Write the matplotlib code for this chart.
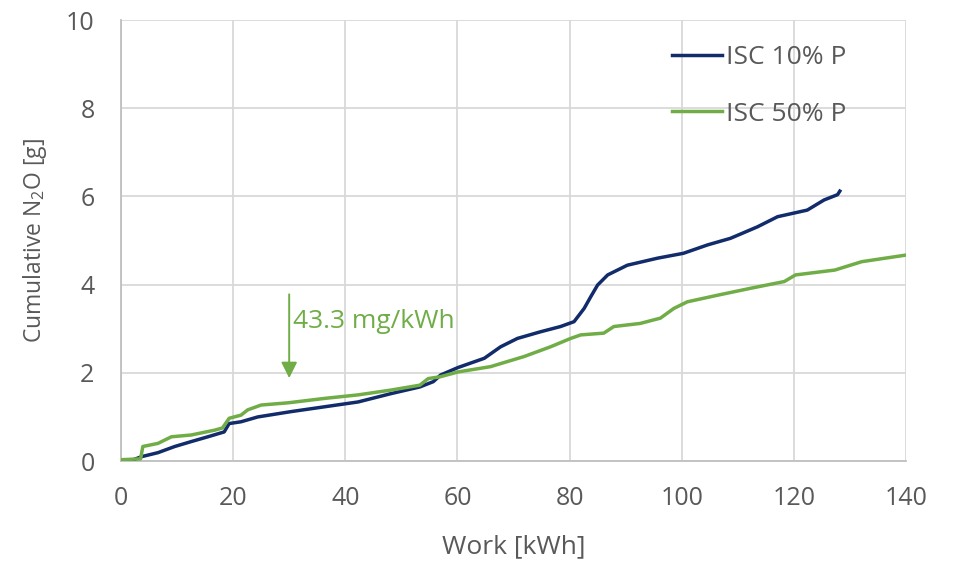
import matplotlib.pyplot as plt

plt.rcParams['font.family'] = ['Open Sans', 'DejaVu Sans']
plt.rcParams['mathtext.default'] = 'regular'

GRAY = '#595959'
GRID = '#D9D9D9'
BLUE = '#122B6A'
GREEN = '#70AD47'

# ISC 10% P (work [kWh], cumulative N2O [g])
work_10 = [0, 2, 3.7, 6.6, 9.6, 12.5, 15.5, 18.4, 19.3, 21.4, 24.4, 30.3, 36.3, 42.3,
           48.2, 53.3, 55.7, 57, 60.1, 64.8, 67.7, 70.7, 74.8, 78.4, 80.8, 82.6,
           83.8, 85.0, 86.8, 90.3, 95.7, 100.3, 104.6, 108.7, 113.5, 117.1, 122.4,
           125.4, 127.8, 128.2]
n2o_10 = [0, 0.02, 0.10, 0.19, 0.33, 0.44, 0.55, 0.66, 0.85, 0.89, 1.00, 1.12, 1.23,
          1.34, 1.53, 1.68, 1.80, 1.95, 2.12, 2.33, 2.59, 2.78, 2.93, 3.05, 3.16,
          3.46, 3.73, 3.99, 4.22, 4.44, 4.60, 4.71, 4.90, 5.05, 5.31, 5.54, 5.69,
          5.92, 6.04, 6.12]

# ISC 50% P
work_50 = [0, 3.5, 3.9, 6.6, 9.0, 12.5, 16.7, 18.1, 19.3, 21.4, 22.6, 25.0, 29.8,
           36.3, 42.3, 48.2, 53.3, 54.8, 56.9, 60.1, 65.9, 71.9, 76.6, 80.2, 82.0,
           86.1, 87.9, 92.6, 96.2, 98.6, 101.0, 106.4, 112.4, 118.3, 120.3, 127.3,
           132.1, 140.0]
n2o_50 = [0.03, 0.05, 0.33, 0.40, 0.55, 0.59, 0.70, 0.75, 0.97, 1.04, 1.16, 1.27,
          1.32, 1.42, 1.50, 1.61, 1.72, 1.87, 1.91, 2.02, 2.14, 2.37, 2.59, 2.78,
          2.86, 2.90, 3.05, 3.12, 3.24, 3.46, 3.61, 3.76, 3.92, 4.07, 4.22, 4.33,
          4.52, 4.67]

fig = plt.figure(figsize=(9.57, 5.65), dpi=100)
ax = fig.add_axes([0.1264, 0.184, 0.8203, 0.7806])

ax.plot(work_10, n2o_10, color=BLUE, lw=2.5, label='ISC 10% P', zorder=3)
ax.plot(work_50, n2o_50, color=GREEN, lw=2.5, label='ISC 50% P', zorder=3)

ax.set_xlim(0, 140)
ax.set_ylim(0, 10)
ax.set_xticks(range(0, 141, 20))
ax.set_yticks(range(0, 11, 2))
ax.grid(True, color=GRID, lw=1.3)
ax.set_axisbelow(True)
for s in ['top', 'right']:
    ax.spines[s].set_visible(False)
for s in ['left', 'bottom']:
    ax.spines[s].set_color('#BFBFBF')
    ax.spines[s].set_linewidth(1.3)
ax.tick_params(length=0, labelsize=18, colors=GRAY)
ax.tick_params(axis='x', pad=18)
ax.tick_params(axis='y', pad=19)

ax.set_xlabel('Work [kWh]', fontsize=19, color=GRAY, labelpad=17)
ax.set_ylabel('Cumulative N$_2$O [g]', fontsize=16.5, color=GRAY, labelpad=12)

ax.annotate('', xy=(30, 1.88), xytext=(30, 3.78),
            arrowprops=dict(arrowstyle='-|>', color=GREEN, lw=1.4,
                            mutation_scale=24, shrinkA=0, shrinkB=0))
ax.text(30.6, 3.17, '43.3 mg/kWh', color=GREEN, fontsize=19, va='center')

leg = ax.legend(loc='upper left', bbox_to_anchor=(672 / 957, 1 - 45 / 565),
                bbox_transform=fig.transFigure, frameon=False, fontsize=19,
                handlelength=1.9, handletextpad=0.15, labelspacing=1.2,
                borderpad=0, borderaxespad=0)
for t in leg.get_texts():
    t.set_color(GRAY)

fig.savefig('out.png', dpi=100)
